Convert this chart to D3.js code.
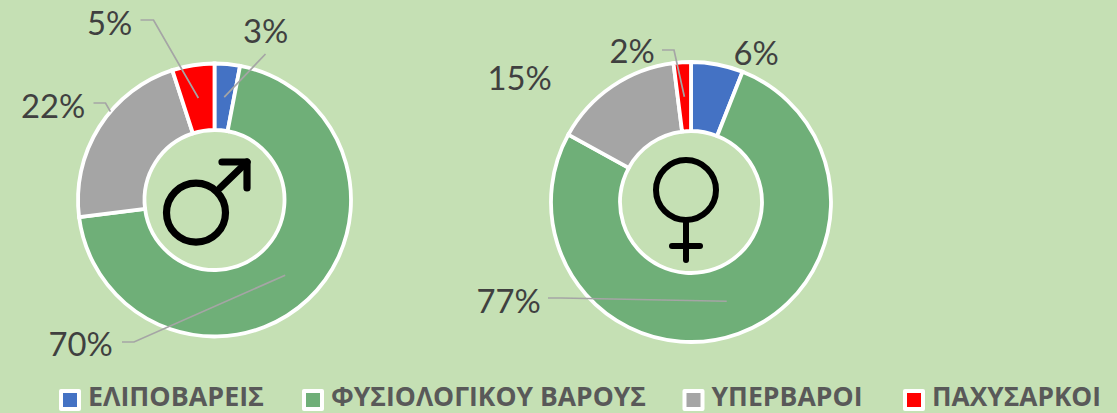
<!DOCTYPE html>
<html><head><meta charset="utf-8">
<script src="https://cdnjs.cloudflare.com/ajax/libs/d3/7.8.5/d3.min.js"></script>
<style>html,body{margin:0;padding:0;background:#C5E0B4;overflow:hidden}svg{display:block}</style>
</head><body><svg id="c" width="1117" height="413"></svg>
<script>
const categories = ["ΕΛΙΠΟΒΑΡΕΙΣ","ΦΥΣΙΟΛΟΓΙΚΟΥ ΒΑΡΟΥΣ","ΥΠΕΡΒΑΡΟΙ","ΠΑΧΥΣΑΡΚΟΙ"];
const maleValues = [3,70,22,5];
const femaleValues = [6,77,15,2];
const colors = ["#4472C4","#6FAF78","#A5A5A5","#FF0000"];

// layout only: label anchor and leader elbows, as offsets from each donut's centre
const maleLayout = {cx:214.5,cy:200,r:136.5,r0:70,labels:[
  {dx:28.5,dy:-170,leader:[[51,-146]]},
  {dx:-166,dy:143,leader:[[-80.5,142],[-92.5,142]]},
  {dx:-193.5,dy:-95,leader:[[-109,-97],[-121,-97]],edgeFrac:0.6},
  {dx:-127.5,dy:-178,leader:[[-61,-180],[-74,-180]]}
]};
const femaleLayout = {cx:691,cy:202,r:140,r0:71,labels:[
  {dx:42.5,dy:-150},
  {dx:-214.5,dy:98,leader:[[-130,96],[-143,96]]},
  {dx:-203.5,dy:-125},
  {dx:-81.5,dy:-152,leader:[[-17,-152],[-29,-152]]}
]};
const legendSlots = [{x:59,w:176},{x:302,w:315},{x:682.5,w:151},{x:903,w:169}];

const svg = d3.select("#c");
const font = "Lato, 'Open Sans', sans-serif";

function donut(values, L){
  const g = svg.append("g").attr("transform",`translate(${L.cx},${L.cy})`);
  const pie = d3.pie().sort(null).value(d=>d)(values);
  const arc = d3.arc().innerRadius(L.r0).outerRadius(L.r);
  g.selectAll("path.s").data(pie).join("path").attr("class","s")
    .attr("d",arc).attr("fill",(d,i)=>colors[i])
    .attr("stroke","#fff").attr("stroke-width",3.8).attr("stroke-linejoin","miter");
  const line = d3.line();
  pie.forEach((p,i)=>{
    const l = L.labels[i];
    if(l.leader){
      const end = l.edgeFrac!==undefined
        ? d3.pointRadial(p.startAngle+(p.endAngle-p.startAngle)*l.edgeFrac, L.r)
        : arc.centroid(p);
      g.append("path").attr("d",line([end,...l.leader])).attr("fill","none")
        .attr("stroke","#A5A5A5").attr("stroke-width",1.7);
    }
    g.append("text").attr("x",l.dx).attr("y",l.dy).attr("dominant-baseline","central")
      .attr("font-family",font).attr("font-size",32.8).attr("fill","#404040")
      .text(values[i]+"%");
  });
  return g;
}
const gm = donut(maleValues, maleLayout);
const gf = donut(femaleValues, femaleLayout);

function glyph(g, x0, y0, r, sw, segs){
  const sym = g.append("g").attr("fill","none").attr("stroke","#000").attr("stroke-width",sw)
    .attr("stroke-linecap","round").attr("stroke-linejoin","round");
  sym.append("circle").attr("cx",x0).attr("cy",y0).attr("r",r);
  sym.selectAll("path").data(segs).join("path").attr("d",d3.line());
}
glyph(gm,-18.5,12.7,29.5,7.2,[[[5.5,-12],[32.5,-38]],[[7.5,-38],[32.5,-38],[32.5,-12]]]);
glyph(gf,-5,-12,30,6,[[[-5,18],[-5,58]],[[-19,44],[9,44]]]);

// legend
const legend = svg.append("g");
categories.forEach((c,i)=>{
  const x = legendSlots[i].x, y = 400;
  legend.append("rect").attr("x",x).attr("y",y-11).attr("width",22).attr("height",22).attr("rx",2).attr("fill","#fff");
  legend.append("rect").attr("x",x+4).attr("y",y-7).attr("width",14).attr("height",14).attr("fill",colors[i]);
  legend.append("text").attr("x",x+29).attr("y",406)
    .attr("font-family","'Open Sans', sans-serif").attr("font-weight",700).attr("font-size",27).attr("fill","#595959")
    .attr("textLength",legendSlots[i].w).attr("lengthAdjust","spacingAndGlyphs").text(c);
});
</script></body></html>
